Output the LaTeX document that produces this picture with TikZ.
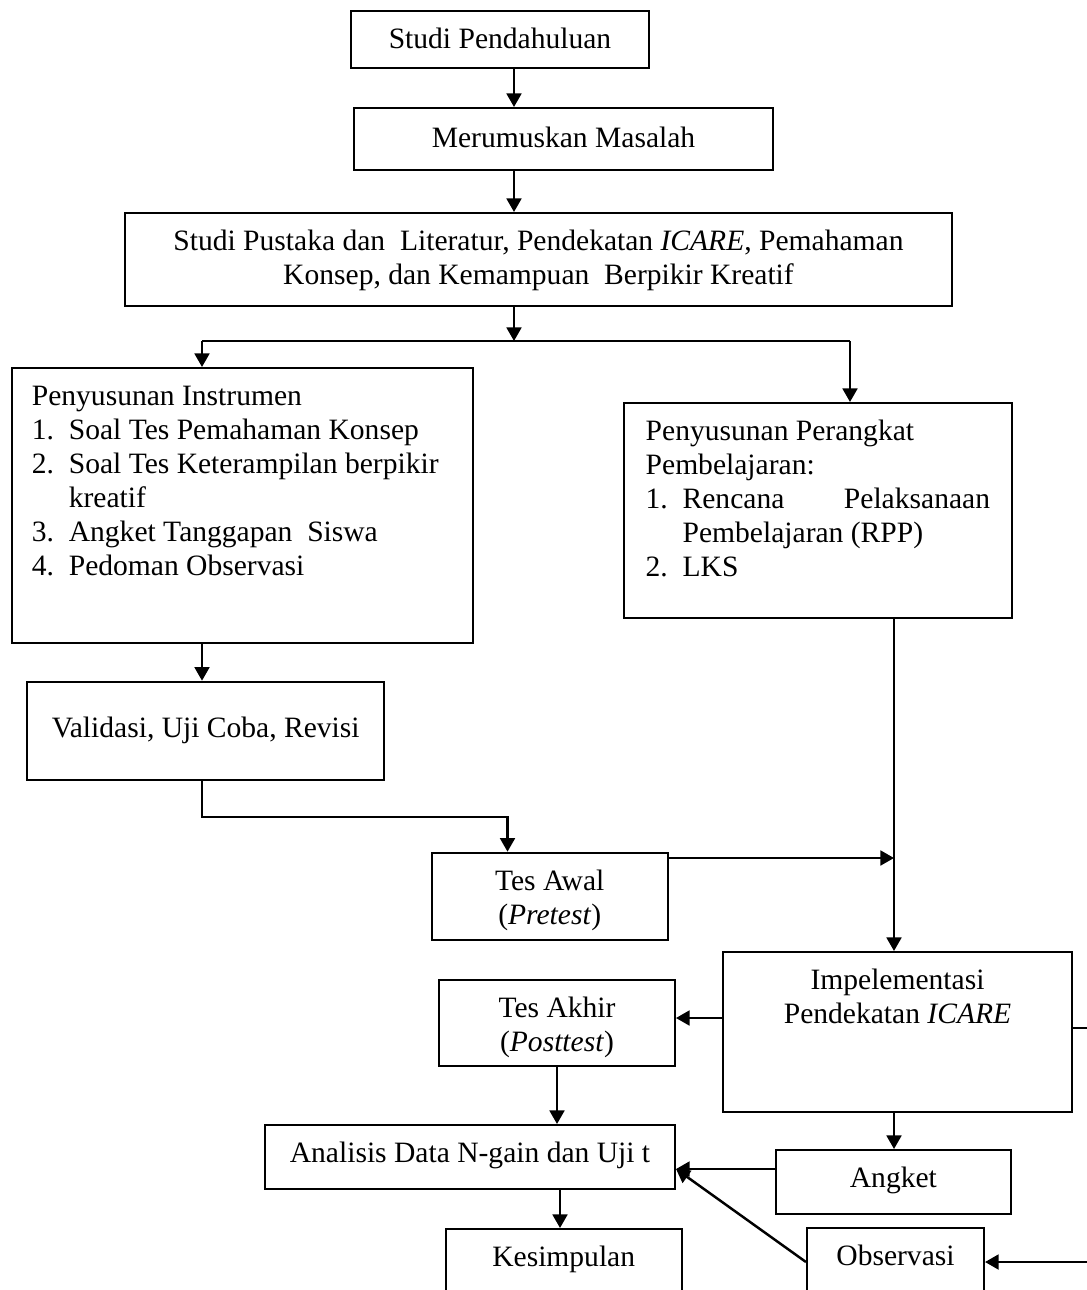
\documentclass[tikz,border=0pt]{standalone}
\usepackage{fontspec}
\setmainfont{Liberation Serif}
\usepackage{tikz}
\usetikzlibrary{arrows.meta, positioning}

\tikzset{
  kotak/.style={draw, line width=0.8pt, inner xsep=0pt, inner ysep=0pt,
    text height=15.3pt, anchor=north},
  panah/.style={line width=1pt, -{Triangle[length=5.5pt, width=6pt]}},
  garis/.style={line width=1pt}
}

\begin{document}
\begin{tikzpicture}[x=0.406pt, y=-0.406pt, font=\fontsize{12pt}{13.8pt}\selectfont]
    \useasboundingbox (0,0) rectangle (1086,1290);

    % Titik bantu untuk jalur panah
    \coordinate (spine) at (514,0);
    \coordinate (lsplit) at (202,341);
    \coordinate (rsplit) at (850,341);
    \coordinate (pre) at (507.5,817);
    \coordinate (trunk) at (894,858);
    \coordinate (post) at (0,1018);
    \coordinate (mid) at (560,0);
    \coordinate (ain) at (676,1169);
    \coordinate (side) at (1100,1028);
    \coordinate (obs) at (1100,1262);

    % Tahap awal
    \node[kotak, minimum width=121.1pt, text depth=7.7pt] (pendahuluan) at (500,10) {Studi Pendahuluan};
    \node[kotak, minimum width=170.1pt, text height=16pt, text depth=9.2pt] (masalah) at (563.5,107) {Merumuskan Masalah};
    \node[kotak, minimum width=335.8pt, text depth=22.5pt] (pustaka) at (538.5,212)
        {\parbox[t]{325pt}{\centering Studi Pustaka dan\ \ Literatur, Pendekatan \textit{ICARE}, Pemahaman\\
         Konsep, dan Kemampuan\ \ Berpikir Kreatif}};

    % Penyusunan instrumen dan perangkat
    \node[kotak, minimum width=187.3pt, text depth=96.4pt] (instrumen) at (242.35,367)
        {\parbox[t]{170.9pt}{Penyusunan Instrumen\\
         \makebox[15pt][l]{1.}Soal Tes Pemahaman Konsep\\
         \makebox[15pt][l]{2.}Soal Tes Keterampilan berpikir\\
         \hspace*{15pt}kreatif\\
         \makebox[15pt][l]{3.}Angket Tanggapan\ \ Siswa\\
         \makebox[15pt][l]{4.}Pedoman Observasi}};
    \node[kotak, minimum width=157.4pt, text depth=71.9pt] (perangkat) at (817.85,402)
        {\parbox[t]{139.8pt}{Penyusunan Perangkat\\
         Pembelajaran:\\
         \makebox[15pt][l]{1.}Rencana\hfill Pelaksanaan\\
         \hspace*{15pt}Pembelajaran (RPP)\\
         \makebox[15pt][l]{2.}LKS}};
    \node[kotak, minimum width=144.8pt, text height=22.5pt, text depth=17.4pt] (validasi) at (205.7,680.7)
        {Validasi, Uji Coba, Revisi};

    % Pelaksanaan
    \node[kotak, minimum width=95.7pt, text depth=20.1pt] (tesawal) at (549.7,851.7)
        {\parbox[t]{90pt}{\centering Tes Awal\\(\textit{Pretest})}};
    \node[kotak, minimum width=141.7pt, text depth=49.7pt] (impl) at (897.5,951)
        {\parbox[t]{135pt}{\centering Impelementasi\\Pendekatan \textit{ICARE}}};
    \node[kotak, minimum width=95.8pt, text depth=19.7pt] (tesakhir) at (557,978.7)
        {\parbox[t]{90pt}{\centering Tes Akhir\\(\textit{Posttest})}};

    % Analisis dan kesimpulan
    \node[kotak, minimum width=166.5pt, text depth=10.7pt] (analisis) at (470,1124) {Analisis Data N-gain dan Uji t};
    \node[kotak, minimum width=95.5pt, text depth=10.7pt] (angket) at (893.4,1149) {Angket};
    \node[kotak, minimum width=95.8pt, text depth=15pt] (kesimpulan) at (563.7,1228) {Kesimpulan};
    \node[kotak, minimum width=71.9pt, text depth=15pt] (observasi) at (895.5,1227) {Observasi};

    % Panah alur
    \draw[panah] (pendahuluan.south -| spine) -- (masalah.north -| spine);
    \draw[panah] (masalah.south -| spine) -- (pustaka.north -| spine);
    \draw[panah] (pustaka.south -| spine) -- (spine |- lsplit);
    \draw[garis] (lsplit) -- (rsplit);
    \draw[panah] (lsplit) -- (lsplit |- instrumen.north);
    \draw[panah] (rsplit) -- (rsplit |- perangkat.north);
    \draw[panah] (lsplit |- instrumen.south) -- (lsplit |- validasi.north);
    \draw[panah] (lsplit |- validasi.south) |- (pre) -- (pre |- tesawal.north);
    \draw[panah] (trunk |- perangkat.south) -- (trunk |- impl.north);
    \draw[panah] (tesawal.east |- trunk) -- (trunk);
    \draw[panah] (impl.west |- post) -- (tesakhir.east |- post);
    \draw[panah] (tesakhir.south) -- (analisis.north -| tesakhir.south);
    \draw[panah] (analisis.south -| mid) -- (kesimpulan.north -| mid);
    \draw[panah] (trunk |- impl.south) -- (trunk |- angket.north);
    \draw[panah] (angket.west |- ain) -- (analisis.east |- ain);
    \draw[panah] (observasi.west |- obs) -- (analisis.east |- ain);
    \draw[panah] (impl.east |- side) -- (side) |- (observasi.east |- obs);
\end{tikzpicture}
\end{document}
